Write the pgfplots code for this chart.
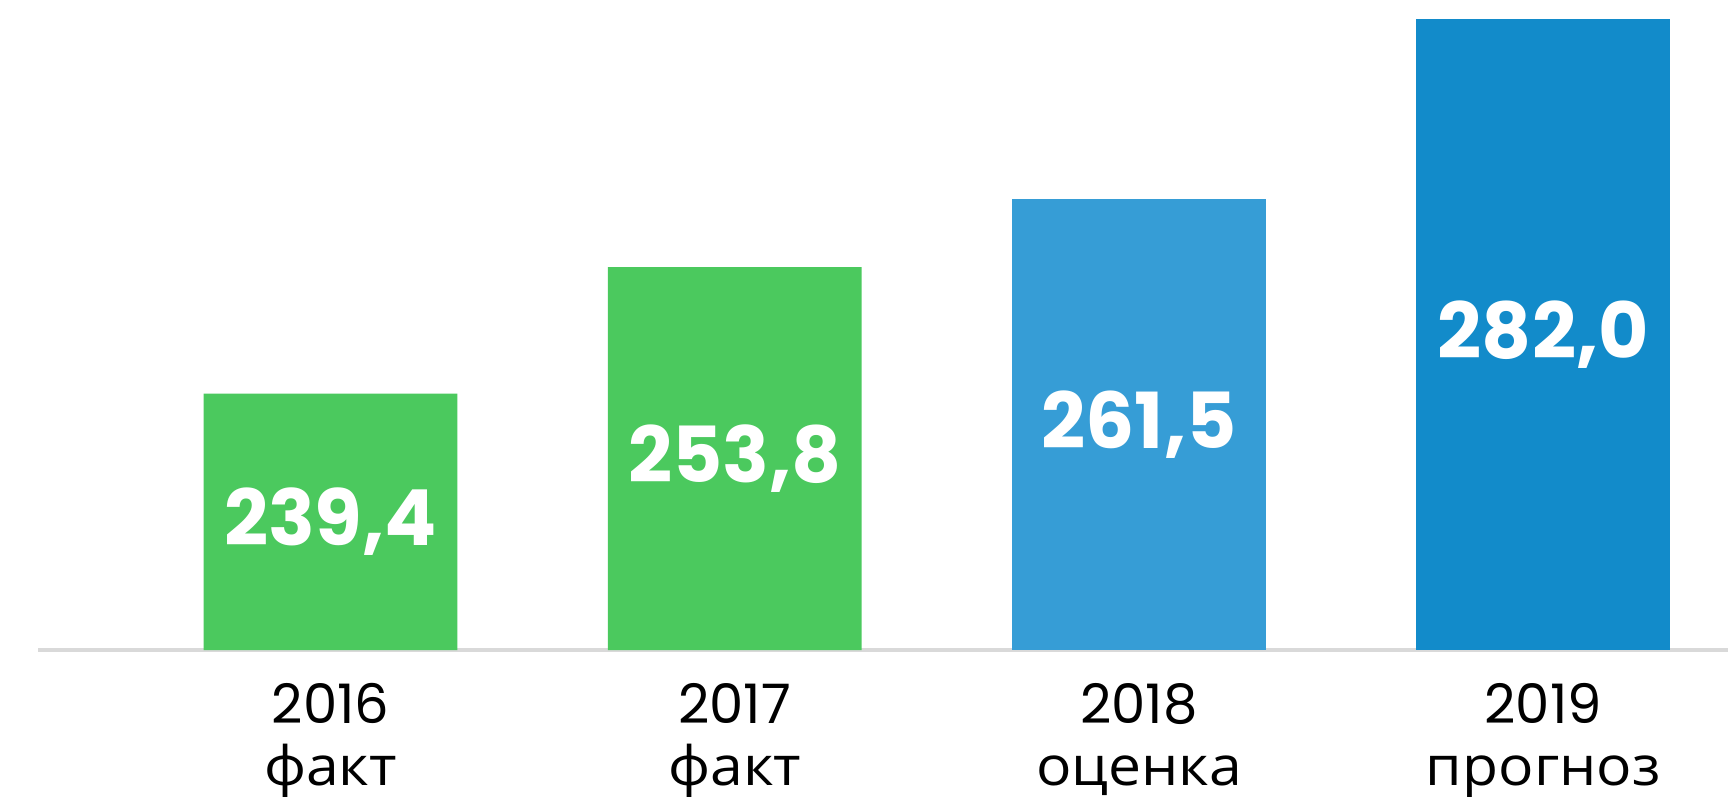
\documentclass[border=0pt]{standalone}
\usepackage{fontspec}
\setmainfont{Poppins}
\newfontfamily\cyr[FakeStretch=1.08]{Open Sans}
\usepackage{pgfplots}
\pgfplotsset{compat=1.18}
\definecolor{factgreen}{HTML}{4BC95E}
\definecolor{estblue}{HTML}{369DD6}
\definecolor{progblue}{HTML}{128BCA}
\definecolor{axisgrey}{HTML}{D9D9D9}

\begin{document}
\begin{tikzpicture}
  \path[use as bounding box] (0,0) rectangle (17.28,7.96);
  \begin{axis}[at={(0.38cm,1.46cm)},anchor=south west,
    scale only axis,width=16.90cm,height=6.5cm,
    ybar,bar width=0.628,
    xmin=-0.7237,xmax=3.457,ymin=210.2,ymax=284.2,
    axis x line*=bottom,hide y axis,
    x axis line style={draw=axisgrey,line width=0.9pt,-},
    xtick={0,1,2,3},major tick length=0pt,
    xticklabels={{2016\\\cyr факт},{2017\\\cyr факт},
                 {2018\\\cyr оценка},{2019\\\cyr прогноз}},
    xticklabel style={align=center,text=black,
      font=\fontsize{15.5}{17.6}\selectfont,yshift=-6pt},
    every node near coord/.style={anchor=center,text=white,
      font=\fontsize{22}{26}\selectfont\bfseries}]
    \addplot[fill=factgreen,draw=none,bar shift=0] coordinates {(0,239.4) (1,253.8)};
    \addplot[fill=estblue,draw=none,bar shift=0] coordinates {(2,261.5)};
    \addplot[fill=progblue,draw=none,bar shift=0] coordinates {(3,282.0)};
    % value labels, placed halfway up each bar
    \addplot[sharp plot,draw=none,mark=none,nodes near coords,
      point meta=explicit symbolic] coordinates {
      (0,224.8) [239,4]
      (1,232.0) [253,8]
      (2,235.85) [261,5]
      (3,246.1) [282,0]};
  \end{axis}
\end{tikzpicture}
\end{document}
